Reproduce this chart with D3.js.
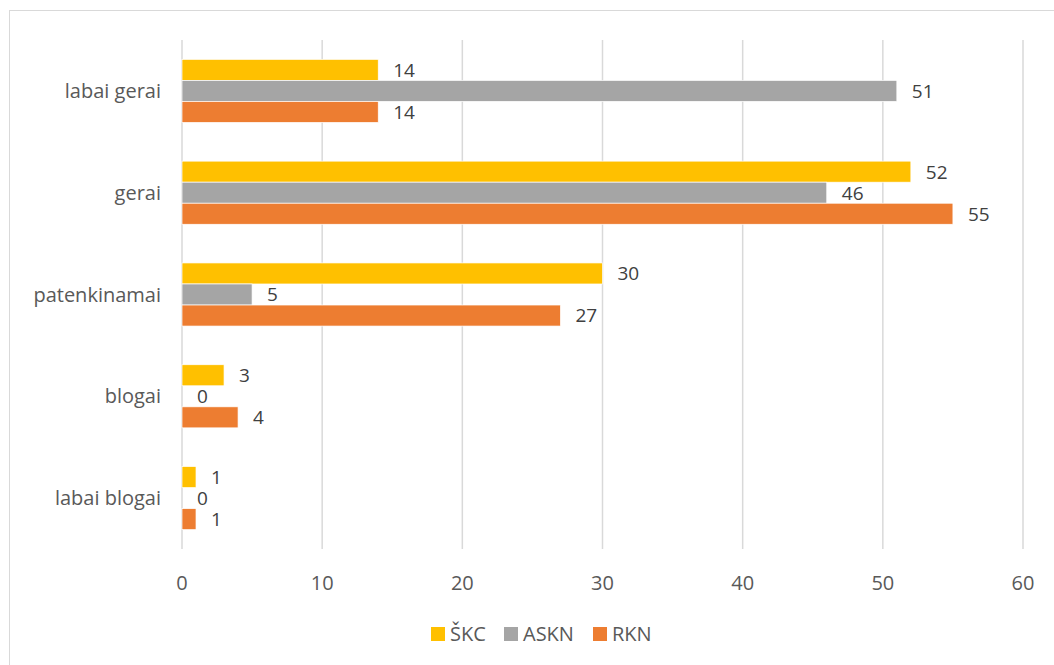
<!DOCTYPE html>
<html>
<head>
<meta charset="utf-8">
<script src="https://cdn.jsdelivr.net/npm/d3@7"></script>
<style>
  body { margin: 0; background: #fff; }
  text { font-family: "Open Sans", "Noto Sans", sans-serif; }
</style>
</head>
<body>
<svg id="chart" width="1054" height="665"></svg>
<script>
// chart data
const categories = ["labai gerai", "gerai", "patenkinamai", "blogai", "labai blogai"]
const seriesNames = ["ŠKC", "ASKN", "RKN"]
const skc = [14, 52, 30, 3, 1]
const askn = [51, 46, 5, 0, 0]
const rkn = [14, 55, 27, 4, 1]
const xTicks = [0, 10, 20, 30, 40, 50, 60]

const colors = ["#ffc000", "#a5a5a5", "#ed7d31"]
const seriesValues = [skc, askn, rkn]

const svg = d3.select("#chart")
const width = 1054, height = 665
const margin = { top: 40, right: 31, bottom: 116, left: 182 }

// chart border
svg.append("rect")
  .attr("x", 9.5)
  .attr("y", 10.5)
  .attr("width", 1100)
  .attr("height", 700)
  .attr("fill", "none")
  .attr("stroke", "#d9d9d9")

const x = d3.scaleLinear()
  .domain([0, 60])
  .range([margin.left, width - margin.right])

const y = d3.scaleBand()
  .domain(categories)
  .range([margin.top, height - margin.bottom])
  .paddingInner(0.38)
  .paddingOuter(0.19)

const ySub = d3.scaleBand()
  .domain(seriesNames)
  .range([0, y.bandwidth()])

// gridlines
svg.append("g").selectAll("line")
  .data(xTicks)
  .enter()
  .append("line")
  .attr("x1", d => x(d))
  .attr("x2", d => x(d))
  .attr("y1", margin.top)
  .attr("y2", height - margin.bottom)
  .attr("stroke", "#d9d9d9")
  .attr("stroke-width", 1.5)

// x tick labels
svg.append("g").selectAll("text")
  .data(xTicks)
  .enter()
  .append("text")
  .attr("x", d => x(d))
  .attr("y", 590)
  .attr("text-anchor", "middle")
  .attr("font-size", "20px")
  .attr("fill", "#595959")
  .text(d => d)

// category labels
svg.append("g").selectAll("text")
  .data(categories)
  .enter()
  .append("text")
  .attr("x", margin.left - 21)
  .attr("y", d => y(d) + y.bandwidth() / 2)
  .attr("dy", "0.35em")
  .attr("text-anchor", "end")
  .attr("font-size", "20px")
  .attr("fill", "#595959")
  .text(d => d)

// bars + value labels
const rows = []
categories.forEach((c, i) => {
  seriesNames.forEach((s, j) => {
    rows.push({ cat: c, series: s, value: seriesValues[j][i], color: colors[j] })
  })
})

const barG = svg.append("g")
barG.selectAll("rect")
  .data(rows.filter(d => d.value > 0))
  .enter()
  .append("rect")
  .attr("x", x(0))
  .attr("y", d => y(d.cat) + ySub(d.series))
  .attr("width", d => x(d.value) - x(0))
  .attr("height", ySub.bandwidth())
  .attr("fill", d => d.color)
  .attr("stroke", "#fff")
  .attr("stroke-width", 0.7)

barG.selectAll("text")
  .data(rows)
  .enter()
  .append("text")
  .attr("x", d => x(d.value) + 15)
  .attr("y", d => y(d.cat) + ySub(d.series) + ySub.bandwidth() / 2)
  .attr("dy", "0.36em")
  .attr("font-size", "19px")
  .attr("fill", "#404040")
  .text(d => d.value)

// legend
const legendX = [431, 504, 593]
const legend = svg.append("g").selectAll("g")
  .data(seriesNames)
  .enter()
  .append("g")
  .attr("transform", (d, i) => `translate(${legendX[i]},627)`)

legend.append("rect")
  .attr("width", 14)
  .attr("height", 14)
  .attr("fill", (d, i) => colors[i])

legend.append("text")
  .attr("x", 19)
  .attr("y", 7)
  .attr("dy", "0.36em")
  .attr("font-size", "20px")
  .attr("fill", "#595959")
  .text(d => d)
</script>
</body>
</html>
